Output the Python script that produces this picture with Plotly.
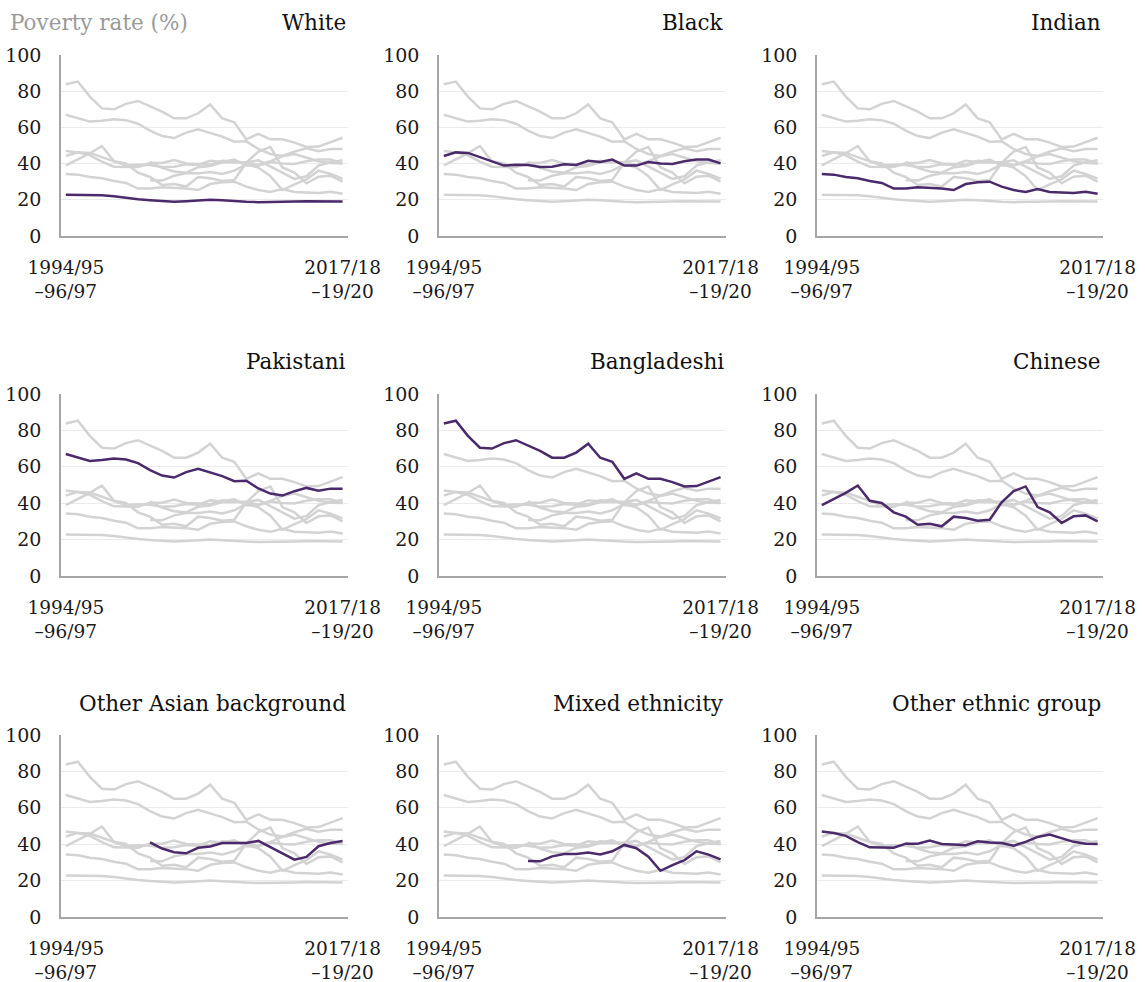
import plotly.graph_objects as go

# ---- data ----
periods = [f"{y}/{str(y+1)[-2:]}–{str(y+2)[-2:]}/{str(y+3)[-2:]}" for y in range(1994, 2018)]
first_label = "1994/95<br>–96/97"
last_label = "2017/18<br>–19/20"

groups = ["White", "Black", "Indian", "Pakistani", "Bangladeshi", "Chinese",
          "Other Asian background", "Mixed ethnicity", "Other ethnic group"]

white = [22.8, 22.8, 22.8, 22.5, 22.0, 21.0, 20.3, 19.8, 19.2, 18.9, 19.2, 19.7,
         20.0, 19.7, 19.2, 18.9, 18.7, 18.7, 18.9, 19.0, 19.2, 19.2, 19.2, 19.0]
black = [44.2, 46.2, 45.9, 43.5, 40.9, 38.9, 39.4, 39.2, 38.1, 38.3, 39.6, 39.2,
         41.6, 40.9, 42.2, 38.9, 38.9, 40.9, 40.1, 39.8, 41.3, 42.2, 42.2, 40.1]
indian = [34.3, 33.9, 32.6, 31.9, 30.4, 29.3, 26.2, 26.2, 26.9, 26.7, 26.3, 25.4,
          28.7, 29.7, 30.0, 27.3, 25.4, 24.3, 26.0, 24.3, 23.9, 23.8, 24.5, 23.4]
pakistani = [67.0, 65.0, 63.2, 63.7, 64.5, 64.0, 62.0, 58.2, 55.2, 54.1, 57.1, 58.9,
             57.1, 54.9, 52.1, 52.3, 48.1, 45.3, 44.2, 46.6, 48.4, 46.8, 48.0, 48.0]
bangladeshi = [83.8, 85.3, 77.0, 70.5, 70.0, 73.0, 74.6, 71.8, 68.7, 65.0, 65.0, 67.8,
               72.7, 65.0, 62.8, 53.4, 56.4, 53.4, 53.4, 51.6, 49.2, 49.4, 52.0, 54.3]
chinese = [39.0, 42.4, 45.7, 49.7, 41.3, 40.1, 35.0, 32.6, 28.2, 28.7, 27.3, 32.6,
           31.9, 30.4, 30.9, 40.5, 46.6, 49.2, 37.9, 35.0, 29.1, 32.8, 33.3, 30.0]
other_asian = [None, None, None, None, None, None, None, 41.0, 37.6, 35.6, 35.0, 38.0,
               38.7, 40.7, 40.7, 40.7, 41.8, 38.5, 35.0, 31.5, 33.0, 38.9, 40.7, 41.8]
mixed = [None, None, None, None, None, None, None, 30.8, 30.6, 33.3, 34.6, 34.6,
         35.4, 34.3, 36.1, 39.6, 37.8, 33.1, 25.4, 28.5, 31.3, 36.1, 34.3, 31.7]
other_ethnic = [47.0, 46.2, 44.6, 41.1, 38.3, 38.3, 38.1, 40.3, 40.3, 42.0, 40.1, 39.8,
                39.4, 41.6, 40.9, 40.7, 39.2, 41.3, 44.0, 45.3, 43.5, 41.3, 40.3, 40.1]

series = [white, black, indian, pakistani, bangladeshi, chinese, other_asian, mixed, other_ethnic]
y_ticks = [0, 20, 40, 60, 80, 100]

# ---- style / layout ----
W, H = 1145, 982
PURPLE = "#4b2a6c"
GREY = "#d3d3d3"
FONT = "DejaVu Serif"
col_px = [(61, 348), (439, 726), (817, 1103)]
row_px = [(55, 236), (394, 576), (735, 917)]

fig = go.Figure()
layout = dict(width=W, height=H, margin=dict(l=0, r=0, t=0, b=0, autoexpand=False),
              plot_bgcolor="white", paper_bgcolor="white", showlegend=False,
              font=dict(family=FONT, size=18, color="#1a1a1a"))
annotations = []

for i, name in enumerate(groups):
    r, c = divmod(i, 3)
    k = i + 1
    xa = "x" if k == 1 else f"x{k}"
    ya = "y" if k == 1 else f"y{k}"
    for j, s in enumerate(series):
        if j == i:
            continue
        fig.add_trace(go.Scatter(x=periods, y=s, mode="lines", xaxis=xa, yaxis=ya,
                                 line=dict(color=GREY, width=2.5), hoverinfo="skip"))
    fig.add_trace(go.Scatter(x=periods, y=series[i], mode="lines", xaxis=xa, yaxis=ya,
                             line=dict(color=PURPLE, width=2.5), name=name))
    x0, x1 = col_px[c]
    y0, y1 = row_px[r]
    layout["xaxis" if k == 1 else f"xaxis{k}"] = dict(
        domain=[x0 / W, x1 / W], anchor=ya, type="category", automargin=False,
        range=[-0.4, len(periods) - 1 + 0.45],
        showgrid=False, zeroline=False, showline=True, linecolor="#a6a6a6", linewidth=1.5,
        tickmode="array", tickvals=[periods[0], periods[-1]], ticktext=[first_label, last_label],
        ticks="", ticklabelstandoff=14, tickfont=dict(family=FONT, size=18.5, color="#1a1a1a"))
    layout["yaxis" if k == 1 else f"yaxis{k}"] = dict(
        domain=[1 - y1 / H, 1 - y0 / H], anchor=xa, range=[0, 100], automargin=False,
        tickmode="array", tickvals=y_ticks,
        showgrid=True, gridcolor="#ebebeb", gridwidth=1, zeroline=False,
        showline=True, linecolor="#a6a6a6", linewidth=1.5, ticks="",
        ticklabelstandoff=14, tickfont=dict(family=FONT, size=19, color="#1a1a1a"))
    annotations.append(dict(text=name, x=x1 / W, y=1 - (y0 - 32) / H, xref="paper", yref="paper",
                            xanchor="right", yanchor="middle", showarrow=False,
                            font=dict(family=FONT, size=21.5, color="#111111")))

annotations.append(dict(text="Poverty rate (%)", x=8 / W, y=1 - 23 / H, xref="paper", yref="paper",
                        xanchor="left", yanchor="middle", showarrow=False,
                        font=dict(family=FONT, size=21.5, color="#9a9a9a")))
layout["annotations"] = annotations
fig.update_layout(**layout)
fig.write_html("out.html", config={"displayModeBar": False},
               post_script="document.body.style.margin='0';document.body.style.overflow='hidden';")
